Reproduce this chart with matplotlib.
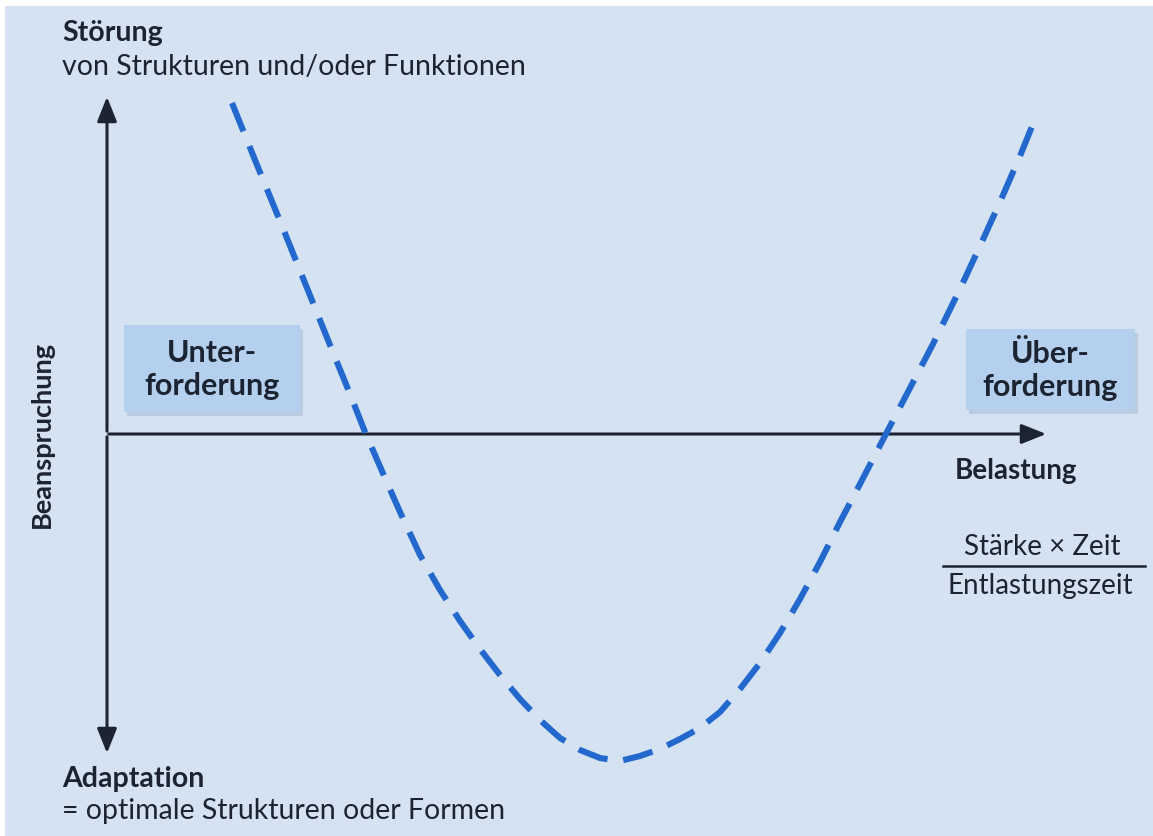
import matplotlib.pyplot as plt
from matplotlib.patches import Rectangle

# curve: Belastung (x) vs Beanspruchung (y)
belastung = [125, 148, 173, 198, 223, 243, 258, 278, 293, 313, 333, 353, 373, 393, 413, 433,
             453, 473, 493, 513, 533, 553, 573, 593, 613, 633, 653, 673, 693, 713, 733, 753,
             781, 803, 826, 853, 873, 893, 913, 926]
beanspruchung = [331, 274, 213, 151, 89, 40, 2, -44, -78, -121, -156, -187, -215, -241, -265, -286,
                 -304, -316, -324, -327, -322, -315, -305, -294, -278, -255, -229, -199, -165, -128, -88, -50,
                 4, 46, 90, 145, 188, 232, 278, 310]

title_top = "Störung"
sub_top = "von Strukturen und/oder Funktionen"
title_bottom = "Adaptation"
sub_bottom = "= optimale Strukturen oder Formen"
y_label = "Beanspruchung"
x_label = "Belastung"
frac_num = "Stärke × Zeit"
frac_den = "Entlastungszeit"
box_left = "Unter-\nforderung"
box_right = "Über-\nforderung"

W, H = 1153, 837
bg = '#d4e2f2'
ink = '#1d2431'
blue = '#2368cc'
plt.rcParams['font.family'] = ['Lato', 'DejaVu Sans']

fig = plt.figure(figsize=(W / 100, H / 100), dpi=100, facecolor=bg)
ax = fig.add_axes([0, 0, 1, 1])
ax.set_facecolor(bg)
ax.set_xlim(-107, W - 107)
ax.set_ylim(435 - H, 435)
ax.axis('off')

def px(x, y):
    # pixel position in the picture -> figure fraction
    return x / W, 1 - y / H

# white paper edges at top and left
fig.patches.append(Rectangle((0, 1 - 7 / H), 1, 7 / H, transform=fig.transFigure,
                             facecolor='white', edgecolor='none', zorder=0))
fig.patches.append(Rectangle((0, 0), 5 / W, 1, transform=fig.transFigure,
                             facecolor='white', edgecolor='none', zorder=0))

# axes with arrows
head = '-|>,head_length=1.5,head_width=0.6'
ax.annotate('', xy=(0, 340), xytext=(0, 0), arrowprops=dict(arrowstyle=head, color=ink, lw=2.2))
ax.annotate('', xy=(0, -322), xytext=(0, 0), arrowprops=dict(arrowstyle=head, color=ink, lw=2.2))
ax.annotate('', xy=(942, 0), xytext=(-1, 0), arrowprops=dict(arrowstyle=head, color=ink, lw=2.2))

# dashed curve
ax.plot(belastung, beanspruchung, color=blue, lw=4.4, linestyle=(0, (5.0, 2.6)),
        solid_joinstyle='round', dash_capstyle='butt', zorder=3)

# boxes
def box(x0, y0, x1, y1, text):
    a = px(x0, y1)
    w = (x1 - x0) / W
    h = (y1 - y0) / H
    fig.patches.append(Rectangle((a[0] + 3 / W, a[1] - 4 / H), w, h, transform=fig.transFigure,
                                 facecolor='#9fb3cc', edgecolor='none', alpha=0.45, zorder=1))
    fig.patches.append(Rectangle(a, w, h, transform=fig.transFigure,
                                 facecolor='#b5d0ee', edgecolor='none', zorder=2))
    cx, cy = px((x0 + x1) / 2, (y0 + y1) / 2)
    fig.text(cx, cy, text, ha='center', va='center', fontsize=22, fontweight='bold',
             color=ink, linespacing=1.25, zorder=4)

box(124, 326, 300, 413, box_left)
box(966, 330, 1135, 411, box_right)

# texts
fig.text(*px(62, 33), title_top, ha='left', va='center', fontsize=20.5, fontweight='bold', color=ink)
fig.text(*px(62, 67), sub_top, ha='left', va='center', fontsize=20.5, color=ink)
fig.text(*px(62, 779), title_bottom, ha='left', va='center', fontsize=20.5, fontweight='bold', color=ink)
fig.text(*px(62, 811), sub_bottom, ha='left', va='center', fontsize=20.5, color=ink)
fig.text(*px(42, 435), y_label, ha='center', va='center', rotation=90, fontsize=19.5,
         fontweight='bold', color=ink)
fig.text(*px(1016, 471), x_label, ha='center', va='center', fontsize=20, fontweight='bold', color=ink)
fig.text(*px(1042, 547), frac_num, ha='center', va='center', fontsize=20, color=ink)
fig.text(*px(1040, 586), frac_den, ha='center', va='center', fontsize=20, color=ink)
ax.plot([943 - 107, 1145 - 107], [435 - 567, 435 - 567], color=ink, lw=1.8)

fig.savefig('out.png', dpi=100, facecolor=bg)
